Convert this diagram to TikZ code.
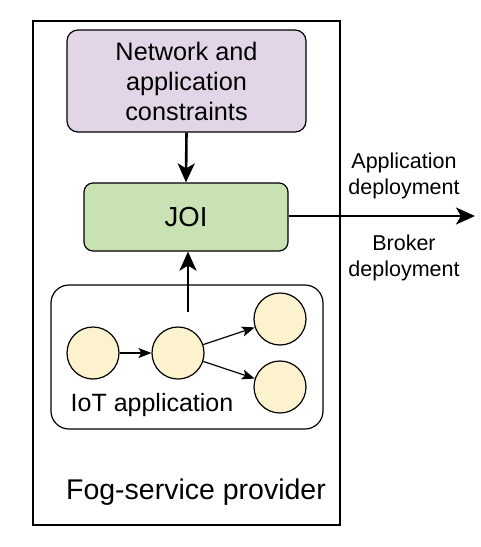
\documentclass[tikz,border=0pt]{standalone}
\usepackage{fontspec}
\setmainfont{Liberation Sans}
\usetikzlibrary{arrows.meta}
\definecolor{constrfill}{HTML}{E1D5E7}
\definecolor{joifill}{HTML}{C8E2B4}
\definecolor{taskfill}{HTML}{FCF2CD}
\begin{document}
\begin{tikzpicture}[x=1pt, y=-1pt, line width=1.2pt,
    bigarrow/.style={line width=2.6pt, -{Stealth[length=19pt, width=17pt, inset=5pt]}},
    smallarrow/.style={line width=1.2pt, -{Stealth[length=13pt, width=10pt, inset=3pt]}},
    task/.style={circle, draw, fill=taskfill, minimum size=52pt, inner sep=0pt}]
    \useasboundingbox (0,0) rectangle (480,547);

    % Fog-service provider frame
    \draw (33,21) rectangle (340,525);
    \node[font=\fontsize{28.5}{33}\selectfont] (fog) at (196,492) {Fog-service provider};

    % Constraints box on top
    \node[draw, rounded corners=11pt, fill=constrfill, minimum width=239pt, minimum height=102pt,
          align=center, font=\fontsize{25.3}{30}\selectfont] (cons) at (186.5,81)
          {Network and\\application\\constraints};

    % JOI box
    \node[draw, rounded corners=9pt, fill=joifill, minimum width=204pt, minimum height=68pt,
          font=\fontsize{27.5}{32}\selectfont] (joi) at (186,217) {JOI};

    % IoT application box
    \draw[rounded corners=18pt] (51,285) rectangle (323,429);
    \node[font=\fontsize{25}{30}\selectfont] (iotlabel) at (152,405) {IoT application};

    % Tasks of the IoT application
    \node[task] (t1) at (93,353) {};
    \node[task] (t2) at (178,353) {};
    \node[task] (t3) at (280,319) {};
    \node[task] (t4) at (280,387) {};

    \draw[smallarrow] (t1) -- (t2);
    \draw[smallarrow] (t2) -- (t3);
    \draw[smallarrow] (t2) -- (t4);

    % Arrows into and out of JOI
    \coordinate (iottop) at (188,312);
    \coordinate (out) at (475,216);
    \draw[bigarrow] (cons.south) -- (joi.north);
    \draw[bigarrow] (iottop) -- (iottop |- joi.south);
    \draw[bigarrow] (joi.east |- out) -- (out);

    % Deployment labels
    \node[align=center, font=\fontsize{21.5}{25.5}\selectfont] (appdep) at (404,176)
        {Application\\deployment};
    \node[align=center, font=\fontsize{21.5}{26}\selectfont] (brokdep) at (404,258)
        {Broker\\deployment};
\end{tikzpicture}
\end{document}
